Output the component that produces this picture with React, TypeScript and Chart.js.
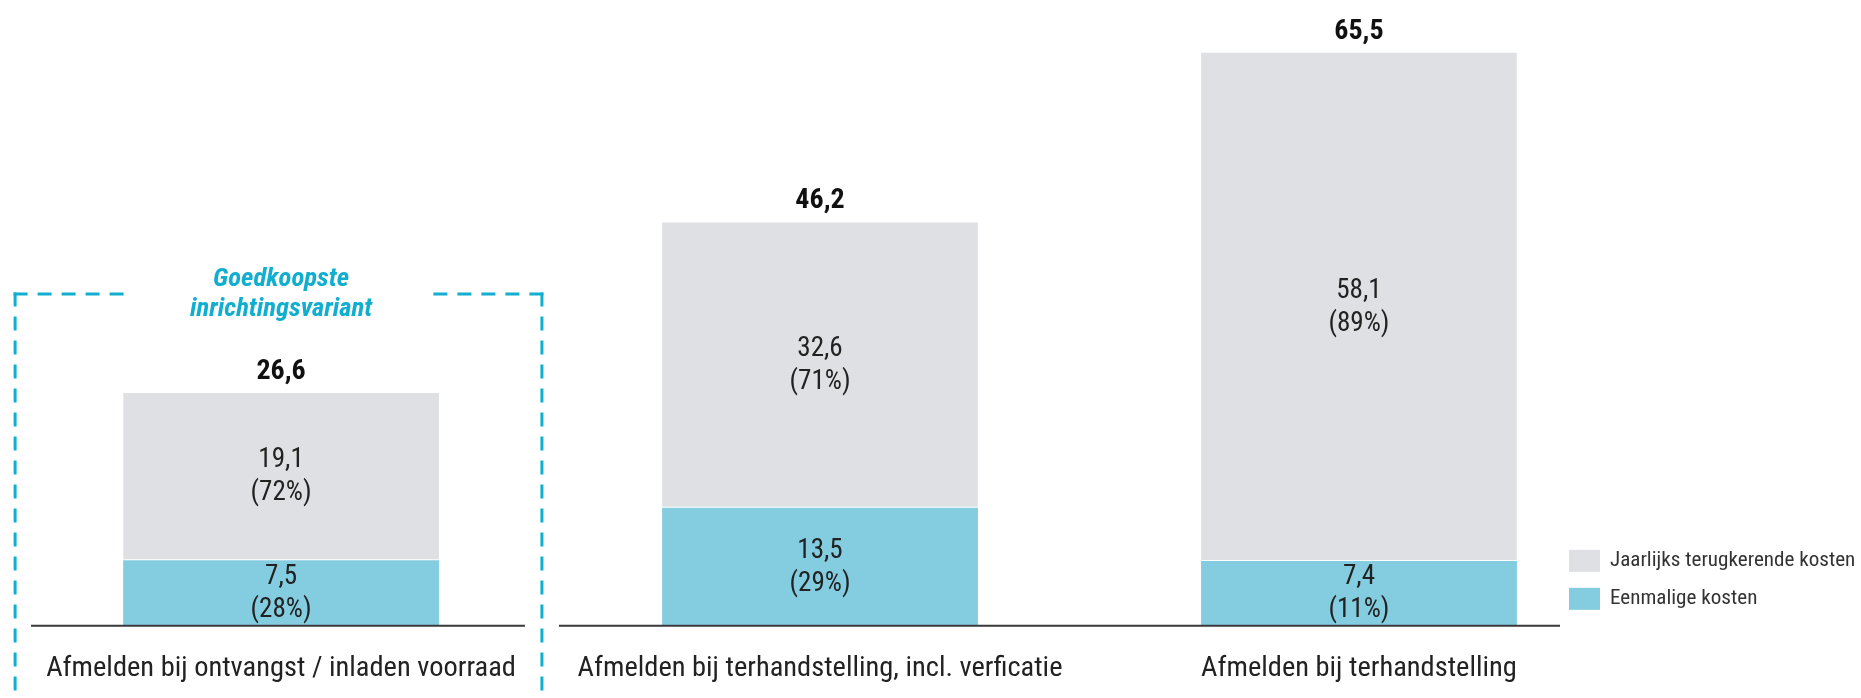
import React, { useEffect, useRef } from 'react';
import { Chart, registerables } from 'chart.js';

Chart.register(...registerables);

// ---------- data ----------
const categories = [
  'Afmelden bij ontvangst / inladen voorraad',
  'Afmelden bij terhandstelling, incl. verficatie',
  'Afmelden bij terhandstelling',
];
const eenmaligeKosten = [7.5, 13.5, 7.4];
const jaarlijkseKosten = [19.1, 32.6, 58.1];
const eenmaligePct = [28, 29, 11];
const jaarlijksePct = [72, 71, 89];
const totalen = [26.6, 46.2, 65.5];
const seriesNames = ['Eenmalige kosten', 'Jaarlijks terugkerende kosten'];
const highlightLines = ['Goedkoopste', 'inrichtingsvariant'];
const highlightCategory = 0;

// ---------- scale / layout settings ----------
const X_MIN = -0.464;
const X_MAX = 2.373;
const Y_MAX = 71.5;
const HIGHLIGHT_LEFT = -0.4935;
const HIGHLIGHT_RIGHT = 0.484;
const HIGHLIGHT_TOP = 37.9;

const GREY = '#dfe0e4';
const TEAL = '#84cde0';
const ACCENT = '#12aecf';
const TEXT = '#222222';
const AXIS = '#3a3a3a';

const fmt = (v: number) => v.toFixed(1).replace('.', ',');

function pickFont() {
  const c = document.createElement('canvas').getContext('2d')!;
  const test = categories[0];
  const cands = ['Liberation Sans Narrow', 'Arial Narrow', 'Roboto Condensed', 'DejaVu Sans Condensed', 'Liberation Sans'];
  let family = '"Liberation Sans", Arial, sans-serif';
  for (const f of cands) {
    c.font = '31px monospace';
    const w1 = c.measureText(test).width;
    c.font = `31px "${f}", monospace`;
    const w2 = c.measureText(test).width;
    if (Math.abs(w1 - w2) > 0.5) {
      family = `"${f}", "Liberation Sans", Arial, sans-serif`;
      break;
    }
  }
  c.font = `31px ${family}`;
  const w = c.measureText(test).width;
  const k = w > 0 ? 470 / w : 1;
  return { family, k };
}

export default function App() {
  const ref = useRef<HTMLCanvasElement | null>(null);

  useEffect(() => {
    if (!ref.current) return;
    const { family, k } = pickFont();
    const F = {
      cat: 31 * k,
      data: 29.5 * k,
      total: 30.5 * k,
      box: 29 * k,
      legend: 23 * k,
    };

    const overlay = {
      id: 'overlay',
      afterDatasetsDraw(chart: any) {
        const { ctx, chartArea, scales } = chart;
        const xs = scales.x;
        const ys = scales.y;
        const y0 = ys.getPixelForValue(0);
        const vals = [eenmaligeKosten, jaarlijkseKosten];
        const pcts = [eenmaligePct, jaarlijksePct];
        ctx.save();
        ctx.textAlign = 'center';
        ctx.textBaseline = 'middle';
        ctx.fillStyle = TEXT;
        ctx.font = `${F.data}px ${family}`;
        chart.data.datasets.forEach((_: any, di: number) => {
          const meta = chart.getDatasetMeta(di);
          meta.data.forEach((bar: any, i: number) => {
            const p = bar.getProps(['x', 'y', 'base'], true);
            const cy = (p.y + p.base) / 2;
            ctx.fillText(fmt(vals[di][i]), p.x, cy - 16);
            ctx.fillText(`(${pcts[di][i]}%)`, p.x, cy + 17);
          });
        });
        ctx.font = `bold ${F.total}px ${family}`;
        ctx.fillStyle = '#111';
        const topMeta = chart.getDatasetMeta(1);
        topMeta.data.forEach((bar: any, i: number) => {
          const p = bar.getProps(['x', 'y'], true);
          ctx.fillText(fmt(totalen[i]), p.x, p.y - 21);
        });
        // axis line with a gap where the highlight box crosses it
        const gapX = xs.getPixelForValue(highlightCategory + HIGHLIGHT_RIGHT);
        ctx.strokeStyle = AXIS;
        ctx.lineWidth = 2;
        ctx.beginPath();
        ctx.moveTo(chartArea.left, y0);
        ctx.lineTo(gapX - 17, y0);
        ctx.moveTo(gapX + 17, y0);
        ctx.lineTo(chartArea.right, y0);
        ctx.stroke();
        ctx.restore();
      },
      afterDraw(chart: any) {
        const { ctx, chartArea, scales } = chart;
        const xs = scales.x;
        const ys = scales.y;
        const y0 = ys.getPixelForValue(0);
        ctx.save();
        // highlight box
        const L = xs.getPixelForValue(highlightCategory + HIGHLIGHT_LEFT);
        const R = xs.getPixelForValue(highlightCategory + HIGHLIGHT_RIGHT);
        const T = ys.getPixelForValue(HIGHLIGHT_TOP);
        const B = chart.height + 10;
        const cx = xs.getPixelForValue(highlightCategory);
        ctx.font = `italic bold ${F.box}px ${family}`;
        const g1 = cx - 156;
        const g2 = cx + 143;
        ctx.strokeStyle = ACCENT;
        ctx.lineWidth = 3;
        ctx.setLineDash([14, 10]);
        const seg = (x1: number, y1: number, x2: number, y2: number) => {
          ctx.beginPath();
          ctx.moveTo(x1, y1);
          ctx.lineTo(x2, y2);
          ctx.stroke();
        };
        seg(L, T - 1.5, L, B);
        seg(L - 1.5, T, g1, T);
        seg(R, T - 1.5, R, B);
        seg(R + 1.5, T, g2, T);
        ctx.setLineDash([]);
        ctx.fillStyle = ACCENT;
        ctx.textAlign = 'center';
        ctx.textBaseline = 'alphabetic';
        ctx.fillText(highlightLines[0], cx, T - 8.5);
        ctx.fillText(highlightLines[1], cx, T + 21.5);

        // legend (top-of-stack first)
        const lx = chartArea.right + 9;
        const ds = chart.data.datasets;
        const order = [1, 0];
        ctx.font = `${F.legend}px ${family}`;
        ctx.textAlign = 'left';
        ctx.textBaseline = 'middle';
        order.forEach((di, r) => {
          const cy = y0 - 65 + r * 38;
          ctx.fillStyle = ds[di].backgroundColor;
          ctx.fillRect(lx, cy - 11, 31, 22);
          ctx.fillStyle = '#333';
          ctx.fillText(ds[di].label, lx + 41, cy);
        });
        ctx.restore();
      },
    };

    const chart = new Chart(ref.current, {
      type: 'bar',
      data: {
        datasets: [
          {
            label: seriesNames[0],
            data: eenmaligeKosten.map((v, i) => ({ x: i, y: v })),
            backgroundColor: TEAL,
            borderWidth: 0,
            categoryPercentage: 0.586,
            barPercentage: 1,
          },
          {
            label: seriesNames[1],
            data: jaarlijkseKosten.map((v, i) => ({ x: i, y: v })),
            backgroundColor: GREY,
            borderColor: '#ffffff',
            borderWidth: { bottom: 1, top: 0, left: 0, right: 0 },
            borderSkipped: false,
            categoryPercentage: 0.586,
            barPercentage: 1,
          },
        ],
      } as any,
      options: {
        animation: false,
        responsive: false,
        maintainAspectRatio: false,
        layout: { padding: { left: 31, right: 301, top: 0, bottom: 16 } },
        plugins: {
          legend: { display: false },
          tooltip: { enabled: false },
          title: { display: false },
        },
        scales: {
          x: {
            type: 'linear',
            offset: false,
            min: X_MIN,
            max: X_MAX,
            stacked: true,
            grid: { display: false, drawTicks: false, offset: false },
            border: { display: false },
            afterBuildTicks: (scale: any) => {
              scale.ticks = categories.map((_, i) => ({ value: i }));
            },
            ticks: {
              autoSkip: false,
              maxRotation: 0,
              minRotation: 0,
              padding: 26,
              color: TEXT,
              font: { family, size: F.cat },
              callback: (_v: any, i: number) => categories[i],
            },
          },
          y: {
            display: false,
            stacked: true,
            min: 0,
            max: Y_MAX,
          },
        },
      } as any,
      plugins: [overlay],
    });
    return () => chart.destroy();
  }, []);

  return (
    <div style={{ position: 'fixed', left: 0, top: 0, width: 1861, height: 698, overflow: 'hidden', background: '#fff' }}>
      <canvas ref={ref} width={1861} height={728} style={{ display: 'block' }} />
    </div>
  );
}
